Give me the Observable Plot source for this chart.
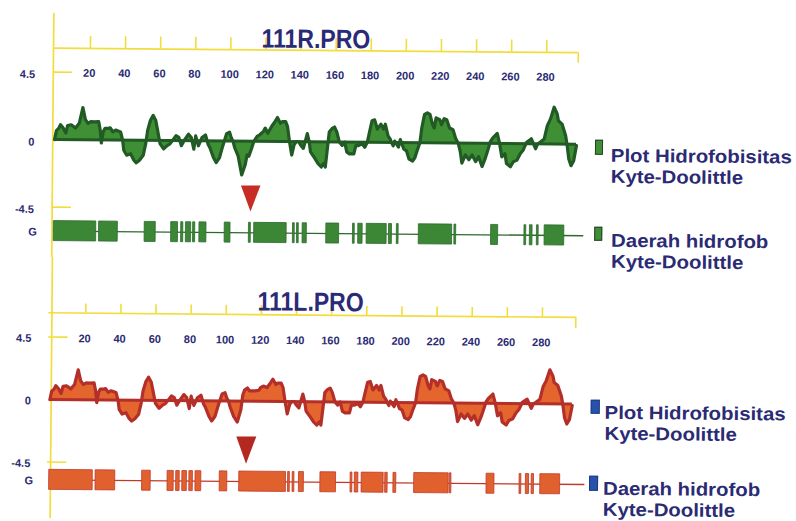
<!DOCTYPE html>
<html><head><meta charset="utf-8">
<script src="https://cdn.jsdelivr.net/npm/d3@7"></script>
<script src="https://cdn.jsdelivr.net/npm/@observablehq/plot@0.6"></script>
<style>
html,body{margin:0;padding:0;background:#fff;overflow:hidden}
#wrap{position:relative;width:796px;height:521px;transform:rotate(0.5deg);transform-origin:398px 260px;font-family:"Liberation Sans",Arial,sans-serif;color:#2b2b74}
.panel{position:absolute;left:0}
.title{position:absolute;font-weight:bold;font-size:23px;line-height:23px;transform:translate(-50%,-50%) scaleY(1.15);white-space:nowrap;color:#2a2a76}
.leg{position:absolute;font-weight:bold;font-size:18.5px;line-height:21px;white-space:nowrap;color:#2b2b74;transform:scaleX(1.1);transform-origin:0 0}
.sw{position:absolute;box-sizing:border-box}
</style></head>
<body>
<div id="wrap">
  <div id="top" class="panel" style="top:0"></div>
  <div id="bot" class="panel" style="top:260px"></div>
</div>
<script>
// ---------- data ----------
const titles = ["111R.PRO", "111L.PRO"];
const xTicks = [20, 40, 60, 80, 100, 120, 140, 160, 180, 200, 220, 240, 260, 280];
const yLabels = ["4.5", "0", "-4.5"];
const yLevels = [4.5, 0, -4.5];
const geneLabel = "G";
const legendLabels = [["Plot Hidrofobisitas", "Kyte-Doolittle"], ["Daerah hidrofob", "Kyte-Doolittle"]];
const mutationSite = 112;

const residues = [
  0, 1.0, 2.3, 3.3, 4.8, 6.4, 7.4, 9.4, 11.9, 14.0,
  16.0, 17.5, 19.0, 20.6, 22.6, 25.1, 26.0, 26.7, 27.7, 28.7,
  30.7, 31.7, 33.2, 34.8, 37.6, 38.8, 39.5, 41.2, 43.4, 45.3,
  46.7, 48.5, 50.6, 52.0, 53.0, 54.5, 56.1, 57.6, 58.7, 60.1,
  62.2, 64.2, 65.8, 67.2, 69.2, 70.8, 72.3, 73.8, 76.3, 77.9,
  79.4, 80.4, 82.0, 84.0, 86.0, 87.5, 88.5, 90.6, 92.2, 94.1,
  95.6, 98.0, 99.7, 100.7, 101.7, 102.7, 104.7, 106.8, 108.8, 109.8,
  110.8, 112.4, 113.6, 115.4, 116.9, 119.0, 120.0, 121.5, 123.6, 125.5,
  126.9, 128.6, 129.7, 131.6, 132.7, 133.9, 135.2, 136.5, 137.7, 139.2,
  140.2, 141.8, 144.0, 145.1, 145.9, 148.4, 150.2, 152.1, 153.4, 154.4,
  155.5, 156.5, 158.0, 159.5, 160.8, 162.3, 163.9, 165.3, 166.6, 168.1,
  170.6, 171.7, 173.2, 175.3, 176.8, 178.2, 179.6, 180.8, 182.3, 183.9,
  185.9, 187.4, 188.4, 190.0, 191.3, 192.0, 193.0, 193.8, 196.0, 197.0,
  199.1, 200.6, 202.1, 204.1, 205.4, 206.9, 208.2, 209.2, 210.7, 212.3,
  213.8, 215.3, 216.3, 217.3, 219.4, 220.4, 221.9, 223.4, 225.0, 227.0,
  228.5, 230.0, 231.2, 232.2, 234.2, 236.1, 238.0, 240.0, 241.7, 243.7,
  245.5, 246.7, 248.3, 249.5, 252.2, 253.6, 254.9, 256.7, 257.6, 259.9,
  261.4, 263.6, 265.4, 267.0, 269.0, 271.7, 274.1, 275.3, 276.7, 279.0,
  280.7, 282.5, 284.5, 286.3, 287.0, 289.1, 291.2, 292.1, 293.1, 294.4,
  295.9, 297.4
];
const kdR = [
  0, 0.6, 0.75, 1.0, 0.8, 0.45, 0.95, 1.0, 0.78, 1.1,
  2.15, 1.35, 1.1, 1.22, 1.2, 1.22, 0.65, -0.2, 0.55, 0.78,
  0.78, 0.82, 0.55, 0.67, 0.55, 0, -0.67, -1.0, -0.9, -1.33,
  -1.5, -1.33, -1.0, -0.2, 0.67, 1.33, 1.67, 1.33, 0.67, -0.2,
  -0.56, -0.33, -0.22, 0, 0.33, 0.22, -0.33, 0, 0.44, 0.22,
  -0.56, 0.33, -0.33, 0.22, 0.4, -0.22, -0.44, -1.1, -1.44, -1.1,
  -0.44, 0.5, 0.6, 0.22, 0, -0.44, -1.0, -2.25, -1.55, -0.9,
  -1.0, -0.44, 0, 0.33, 0.44, 0.67, 0.89, 0.55, 1.0, 1.33,
  1.6, 1.22, 1.33, 1.33, 1.0, 0, -0.89, -0.22, 0, 0,
  -0.22, -0.44, 0.55, 0, -0.67, -1.1, -1.44, -1.67, -1.44, -1.67,
  -0.44, 0.67, 0.89, 1.0, 0.67, 0, -0.22, 0, -0.67, -0.78,
  -0.78, -0.22, -0.22, -0.1, -0.33, 0, 0.78, 1.44, 1.5, 0.89,
  1.22, 0.89, 1.22, 0.44, 0.22, 0, -0.22, 0.1, -0.3, 0.2,
  -0.44, -0.55, -1.1, -1.22, -1.0, -0.44, 0, 1.0, 1.9, 2.0,
  1.9, 1.22, 1.0, 1.67, 1.55, 1.22, 1.62, 1.55, 1.0, 0.89,
  0.33, 0, -0.55, -1.33, -0.78, -1.1, -0.78, -1.22, -0.89, -1.55,
  -1.0, -0.55, 0.1, 0.33, 0.67, 0, -0.89, -0.67, -1.33, -1.55,
  -1.22, -1.1, -0.67, -0.44, 0.1, 0.33, -0.33, 0, 0.1, 0.33,
  1.22, 1.67, 2.45, 2.0, 1.55, 1.33, 0.55, -0.1, -1.0, -1.44,
  -1.1, -0.1
];
const kdL = [
  0, 0.6, 0.75, 1.0, 0.8, 0.45, 0.95, 1.0, 0.78, 1.1,
  2.15, 1.35, 1.1, 1.22, 1.2, 1.22, 0.65, -0.2, 0.55, 0.78,
  0.78, 0.82, 0.55, 0.67, 0.55, 0, -0.67, -1.0, -0.9, -1.33,
  -1.5, -1.33, -1.0, -0.2, 0.67, 1.33, 1.67, 1.33, 0.67, -0.2,
  -0.56, -0.33, -0.22, 0, 0.33, 0.22, -0.33, 0, 0.44, 0.22,
  -0.56, 0.33, -0.33, 0.22, 0.4, -0.22, -0.44, -1.1, -1.44, -1.1,
  -0.44, 0.5, 0.6, 0.22, 0, -0.44, -1.1, -1.5, -0.6, 0.45,
  0.8, 0.95, 0.75, 0.75, 0.75, 0.8, 1.0, 1.1, 1.0, 1.33,
  1.6, 1.22, 1.33, 1.33, 1.0, 0, -0.89, -0.22, 0, 0,
  -0.22, -0.44, 0.55, 0, -0.67, -1.1, -1.44, -1.67, -1.44, -1.67,
  -0.44, 0.67, 0.89, 1.0, 0.67, 0, -0.22, 0, -0.67, -0.78,
  -0.78, -0.22, -0.22, -0.1, -0.33, 0, 0.78, 1.44, 1.5, 0.89,
  1.22, 0.89, 1.22, 0.44, 0.22, 0, -0.22, 0.1, -0.3, 0.2,
  -0.44, -0.55, -1.1, -1.22, -1.0, -0.44, 0, 1.0, 1.9, 2.0,
  1.9, 1.22, 1.0, 1.67, 1.55, 1.22, 1.62, 1.55, 1.0, 0.89,
  0.33, 0, -0.55, -1.33, -0.78, -1.1, -0.78, -1.22, -0.89, -1.55,
  -1.0, -0.55, 0.1, 0.33, 0.67, 0, -0.89, -0.67, -1.33, -1.55,
  -1.22, -1.1, -0.67, -0.44, 0.1, 0.33, -0.33, 0, 0.1, 0.33,
  1.22, 1.67, 2.45, 2.0, 1.55, 1.33, 0.55, -0.1, -1.0, -1.44,
  -1.1, -0.1
];

// hydrophobic regions (start / end residue)
const hydroStartR = [0, 25.8, 51.8, 66.9, 72.6, 75.3, 79.4, 83, 97.4, 111.2, 114.2, 136.3, 138.6, 141.8, 155.3, 170.5, 173.5, 178.3, 191, 195.5, 208, 228.3, 249.2, 268.2, 271.3, 275.3, 279.7];
const hydroEndR   = [24.2, 36.5, 58.1, 70.8, 73.8, 78.3, 80.6, 87, 100.7, 112.3, 132.7, 137.3, 139.6, 144.2, 162.6, 171.5, 176, 189.7, 192.7, 196.5, 227, 229.3, 253.2, 269.2, 272.8, 276.3, 290.9];
const hydroStartL = [0, 26.4, 52.9, 67.4, 72.3, 75.8, 79.8, 83.3, 97.1, 108.2, 136, 138.6, 142.2, 154.4, 171.6, 174, 177.9, 191.3, 196, 207.8, 228, 249, 267.8, 271.4, 274.7, 279.6];
const hydroEndL   = [24.8, 37.6, 57.8, 70.9, 74.3, 78.4, 81.8, 86.6, 101.4, 134.8, 137, 139.6, 145, 163.3, 172.6, 176, 190.4, 192.7, 197.6, 227.4, 229, 253.5, 268.8, 273.2, 276, 290.9];
const geneLineEndR = 302;
const geneLineEndL = 305;

// ---------- drawing ----------
const YELLOW = "#f2dd3e";
const NAVY = "#2b2b74";
const FONT = "Liberation Sans, Arial, sans-serif";

function triangle(w, h) {
  return {draw(ctx) { ctx.moveTo(-w / 2, -h); ctx.lineTo(w / 2, -h); ctx.lineTo(0, 0); ctx.closePath(); }};
}

function makePanel(c) {
  const profile = residues.map((r, i) => ({r, v: c.kd[i]}));
  const regions = c.starts.map((s, i) => ({s, e: c.ends[i]}));
  const leftLabels = yLabels.map((t, i) => ({t, y: yLevels[i]}));
  return Plot.plot({
    width: 796, height: c.height,
    marginLeft: c.x0, marginRight: 796 - c.x1,
    marginTop: c.top, marginBottom: c.height - c.bottom,
    x: {domain: [0, c.xMax], axis: null},
    y: {domain: [c.yGene, c.yAxis], axis: null},
    style: {overflow: "visible", background: "transparent"},
    marks: [
      Plot.ruleX([0], {dx: c.vdx, insetTop: -c.vTop, insetBottom: -c.vBottom, stroke: YELLOW, strokeWidth: 1.7}),
      Plot.ruleY([c.yAxis], {x1: -1, x2: c.xMax, stroke: YELLOW, strokeWidth: 1.7}),
      Plot.ruleX(xTicks, {y1: c.yAxis, y2: c.yAxis + c.tickLen, stroke: YELLOW, strokeWidth: 1.6}),
      Plot.ruleX([c.xMax], {y1: c.yAxis, y2: c.yAxis - c.endTick, stroke: YELLOW, strokeWidth: 1.6}),
      Plot.text(xTicks, {x: d => d, frameAnchor: "top", dy: c.labelDy, dx: -1, text: d => String(d),
        fill: NAVY, fontSize: 11, fontWeight: "bold", fontFamily: FONT}),
      Plot.ruleY([4.5, -4.5], {x1: -1, x2: 10, stroke: YELLOW, strokeWidth: 1.6}),
      Plot.text(leftLabels, {y: "y", text: "t", frameAnchor: "left", dx: c.ldx, dy: c.ldy, textAnchor: "end",
        fill: NAVY, fontSize: 11, fontWeight: "bold", fontFamily: FONT}),
      Plot.text([geneLabel], {y: c.yGene, text: d => d, frameAnchor: "left", dx: c.gdx, dy: 1, textAnchor: "end",
        fill: NAVY, fontSize: 11, fontWeight: "bold", fontFamily: FONT}),
      Plot.areaY(profile, {x: "r", y: "v", fill: c.fill}),
      Plot.ruleY([0], {x1: d3.min(residues), x2: d3.max(residues), stroke: c.stroke, strokeWidth: 3}),
      Plot.lineY(profile, {x: "r", y: "v", stroke: c.stroke, strokeWidth: 3.2, strokeLinejoin: "round"}),
      Plot.ruleY([c.yGene], {x1: 0, x2: c.lineEnd, stroke: c.barStroke, strokeWidth: 1.4}),
      Plot.rect(regions, {x1: "s", x2: "e", y1: c.yGene, y2: c.yGene, insetTop: -10, insetBottom: -10,
        fill: c.barFill, stroke: c.barStroke, strokeWidth: 0.8}),
      Plot.dot([mutationSite], {x: d => d, y: -4.5, dy: c.triDy, symbol: c.tri, fill: c.triFill, stroke: "none"})
    ]
  });
}

const topPlot = makePanel({
  height: 260, x0: 53, x1: 576, xMax: 298, top: 50.6, bottom: 233.6, yAxis: 6.1, yGene: -6.1,
  vdx: -1.8, vTop: 34.6, vBottom: 26.4, tickLen: 0.8, endTick: 0.7, labelDy: 20.5,
  ldx: -20, ldy: 2.5, gdx: -17,
  kd: kdR, starts: hydroStartR, ends: hydroEndR, lineEnd: geneLineEndR,
  fill: "#3f8f34", stroke: "#215a25", barFill: "#3b8736", barStroke: "#2c6a2c",
  tri: triangle(19.5, 26), triDy: 2.7, triFill: "#c62d24"
});
const botPlot = makePanel({
  height: 261, x0: 50.6, x1: 575.8, xMax: 299, top: 55.3, bottom: 222.4, yAxis: 6.24, yGene: -5.78,
  vdx: 1.3, vTop: 55.3, vBottom: 38.6, tickLen: 0.65, endTick: 0.8, labelDy: 21.3,
  ldx: -19, ldy: 1.5, gdx: -16,
  kd: kdL, starts: hydroStartL, ends: hydroEndL, lineEnd: geneLineEndL,
  fill: "#e4652d", stroke: "#b42f2a", barFill: "#e0612d", barStroke: "#c03a2a",
  tri: triangle(20, 27.3), triDy: 0, triFill: "#b3281f"
});
document.getElementById("top").append(topPlot);
document.getElementById("bot").append(botPlot);

const wrap = document.getElementById("wrap");
const titlePos = [[314, 39.5], [311, 302.5]];
titles.forEach((t, i) => {
  const d = document.createElement("div");
  d.className = "title"; d.textContent = t;
  d.style.left = titlePos[i][0] + "px"; d.style.top = titlePos[i][1] + "px";
  wrap.append(d);
});
const legendItems = [
  {sw: [594, 138, 8, 15], fill: "#3f8f34", border: "#2a3f2a", text: [610, 142.5], label: legendLabels[0]},
  {sw: [594, 225, 8, 14], fill: "#3f8f34", border: "#2a3f2a", text: [610.5, 227.8], label: legendLabels[1]},
  {sw: [592, 398.4, 9, 14], fill: "#2852aa", border: "#1f3c80", text: [605.5, 399.8], label: legendLabels[0]},
  {sw: [591, 473.5, 9, 15], fill: "#2852aa", border: "#1f3c80", text: [605.3, 475.8], label: legendLabels[1]}
];
legendItems.forEach(it => {
  const s = document.createElement("div");
  s.className = "sw";
  Object.assign(s.style, {left: it.sw[0] + "px", top: it.sw[1] + "px", width: it.sw[2] + "px", height: it.sw[3] + "px",
    background: it.fill, border: "1.5px solid " + it.border});
  wrap.append(s);
  const t = document.createElement("div");
  t.className = "leg";
  t.style.left = it.text[0] + "px"; t.style.top = it.text[1] + "px";
  t.innerHTML = it.label.join("<br>");
  wrap.append(t);
});
</script>
</body></html>
